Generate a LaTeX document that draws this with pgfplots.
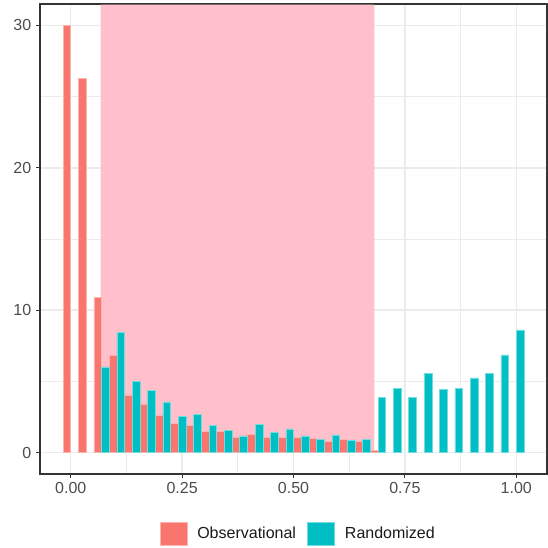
\documentclass[border=0pt]{standalone}
\usepackage{fontspec}
\setmainfont{Liberation Sans}
\usepackage{pgfplots}
\pgfplotsset{compat=1.18}
\usepackage{pgfplotstable}

\definecolor{obs}{HTML}{F8766D}
\definecolor{rnd}{HTML}{00BFC4}
\definecolor{zone}{HTML}{FFC0CB}
\definecolor{gridgray}{HTML}{EBEBEB}
\definecolor{framegray}{HTML}{333333}
\definecolor{ticktext}{HTML}{4D4D4D}

% bin index k (bin centre = k/29) and bar height
\pgfplotstableread{
k v
0 30.0
1 26.3
2 10.9
3 6.84
4 4.05
5 3.42
6 2.60
7 2.04
8 1.94
9 1.49
10 1.49
11 1.08
12 1.26
13 1.08
14 1.08
15 1.08
16 1.01
17 0.77
18 0.94
19 0.77
20 0.14
}\obsdata

\pgfplotstableread{
k v
2 6.02
3 8.46
4 5.01
5 4.36
6 3.56
7 2.53
8 2.67
9 1.90
10 1.57
11 1.17
12 1.97
13 1.41
14 1.66
15 1.17
16 0.91
17 1.24
18 0.84
19 0.93
20 3.89
21 4.52
22 3.89
23 5.58
24 4.45
25 4.52
26 5.25
27 5.58
28 6.86
29 8.62
}\rnddata

\begin{document}
\begin{tikzpicture}
\useasboundingbox (-30pt,-55.5pt) rectangle (381pt,355.5pt);
\begin{axis}[
  at={(0pt,0pt)}, anchor=south west,
  scale only axis, width=380.25pt, height=352.5pt,
  xmin=-0.069, xmax=1.069, ymin=-1.5, ymax=31.5,
  xtick={0,0.25,0.5,0.75,1},
  xticklabels={0.00,0.25,0.50,0.75,1.00},
  ytick={0,10,20,30},
  minor xtick={0.125,0.375,0.625,0.875},
  minor ytick={5,15,25},
  grid=both,
  major grid style={gridgray, line width=1.1pt},
  minor grid style={gridgray, line width=0.55pt},
  tick align=outside, tick pos=left,
  major tick length=3pt, minor tick length=0pt,
  tick style={framegray, line width=0.75pt},
  axis line style={framegray, line width=0.8pt},
  /pgf/number format/assume math mode=true,
  ticklabel style={font=\fontsize{12}{14}\selectfont, text=ticktext},
  legend columns=2,
  legend cell align=left,
  legend style={at={(0.51,-0.127)}, anchor=center, draw=none, fill=none,
    font=\fontsize{12}{14}\selectfont, text=black!90,
    /tikz/every even column/.append style={column sep=6.5pt}},
]
% highlighted region
\addplot[fill=zone, draw=none, forget plot]
  coordinates {(0.0673,0) (0.6816,0) (0.6816,31.46) (0.0673,31.46)} \closedcycle;

\addplot[ybar, bar shift=0pt, bar width=0.017241,
  fill=obs, draw=obs!55!white, line width=0.4pt,
  legend image code/.code={\draw[fill=obs, draw=obs!55!white, line width=0.4pt]
    (0pt,-8.6pt) rectangle (20.25pt,8.6pt);
    \path[draw=none, fill=none] (0pt,0pt) -- (26pt,0pt);}]
  table[x expr=\thisrow{k}/29-0.0086207, y=v] {\obsdata};
\addlegendentry{Observational}

\addplot[ybar, bar shift=0pt, bar width=0.017241,
  fill=rnd, draw=rnd!55!white, line width=0.4pt,
  legend image code/.code={\draw[fill=rnd, draw=rnd!55!white, line width=0.4pt]
    (0pt,-8.6pt) rectangle (20.25pt,8.6pt);
    \path[draw=none, fill=none] (0pt,0pt) -- (26pt,0pt);}]
  table[x expr=\thisrow{k}/29+0.0086207, y=v] {\rnddata};
\addlegendentry{Randomized}
\end{axis}
\end{tikzpicture}
\end{document}
